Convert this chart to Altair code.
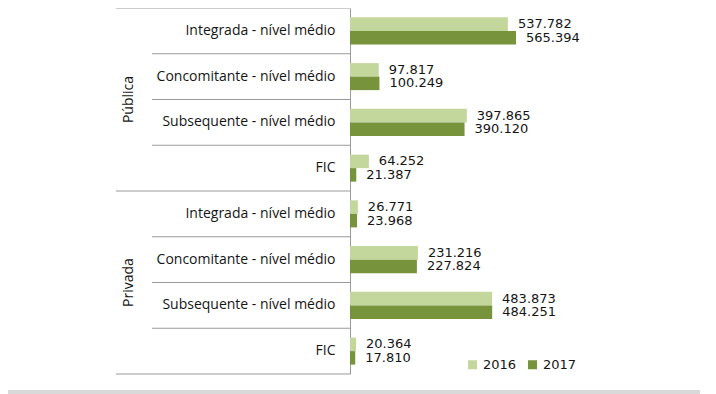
import altair as alt
import pandas as pd

groups = ["Pública"] * 4 + ["Privada"] * 4
categories = ["Integrada - nível médio", "Concomitante - nível médio",
              "Subsequente - nível médio", "FIC"] * 2
years = ["2016", "2017"]
v2016 = [537782, 97817, 397865, 64252, 26771, 231216, 483873, 20364]
v2017 = [565394, 100249, 390120, 21387, 23968, 227824, 484251, 17810]
colors = ["#c3d69b", "#77933c"]

keys = [f"{i}|{c}" for i, c in enumerate(categories)]

rows = []
for i, k in enumerate(keys):
    for y, vals in zip(years, [v2016, v2017]):
        v = vals[i]
        rows.append({"key": k, "group": groups[i], "year": y, "value": v,
                     "label": f"{v:,}".replace(",", ".")})
df = pd.DataFrame(rows)

W, H = 340, 366
LINE = "#9a9a9a"
TXT = "#151515"

yscale = alt.Scale(domain=keys, paddingInner=0, paddingOuter=0)
xscale = alt.Scale(domain=[0, 1158000])

base = alt.Chart(df)

bars = base.mark_bar().encode(
    y=alt.Y("key:N", scale=yscale, sort=keys,
            axis=alt.Axis(title=None, labelExpr="split(datum.label,'|')[1]",
                          labelFont="Open Sans", labelFontSize=14, labelColor=TXT,
                          labelPadding=15, ticks=False, domainColor=LINE,
                          labelLimit=300)),
    yOffset=alt.YOffset("year:N", scale=alt.Scale(paddingInner=0, paddingOuter=0.694)),
    x=alt.X("value:Q", scale=xscale, axis=None),
    color=alt.Color("year:N", scale=alt.Scale(domain=years, range=colors),
                    legend=alt.Legend(orient="none", legendX=116, legendY=350,
                                      direction="horizontal", title=None,
                                      symbolType="square", symbolSize=81,
                                      labelFont="DejaVu Sans", labelFontSize=13,
                                      labelColor=TXT, padding=0, columnPadding=9,
                                      symbolStrokeWidth=0)),
)

labels = base.mark_text(align="left", baseline="middle", dx=10,
                        font="DejaVu Sans", fontSize=13, color=TXT).encode(
    y=alt.Y("key:N", scale=yscale, sort=keys),
    yOffset=alt.YOffset("year:N", scale=alt.Scale(paddingInner=0, paddingOuter=0.694)),
    x=alt.X("value:Q", scale=xscale),
    text="label:N",
)

kdf = pd.DataFrame({"key": keys, "idx": list(range(8)), "group": groups})

inner = alt.Chart(kdf).transform_filter("datum.idx % 4 != 0").mark_rule(
    color=LINE, strokeWidth=1).encode(
    y=alt.Y("key:N", scale=yscale, sort=keys, bandPosition=0),
    x=alt.value(-198), x2=alt.value(0))

outer = alt.Chart(kdf).transform_filter("datum.idx % 4 == 0").mark_rule(
    color=LINE, strokeWidth=1).encode(
    y=alt.Y("key:N", scale=yscale, sort=keys, bandPosition=0),
    x=alt.value(-234), x2=alt.value(0))

bottom = alt.Chart(kdf).transform_filter("datum.idx == 7").mark_rule(
    color=LINE, strokeWidth=1).encode(
    y=alt.Y("key:N", scale=yscale, sort=keys, bandPosition=1),
    x=alt.value(-234), x2=alt.value(0))

glabels = alt.Chart(kdf).transform_filter("datum.idx % 4 == 2").mark_text(
    angle=270, align="center", baseline="middle", font="Open Sans",
    fontSize=14, color=TXT).encode(
    y=alt.Y("key:N", scale=yscale, sort=keys, bandPosition=0),
    x=alt.value(-221), text="group:N")

band = alt.Chart(pd.DataFrame({"a": [0]})).mark_rect(color="#d9d9d9").encode(
    x=alt.value(-342), x2=alt.value(W + 10), y=alt.value(382), y2=alt.value(386))

chart = alt.layer(band, inner, outer, bottom, bars, labels, glabels).properties(
    width=W, height=H,
    autosize=alt.AutoSizeParams(type="none"),
    padding={"left": 342, "top": 0, "right": 10, "bottom": 20},
).configure_view(stroke=None)

chart.save("out.html", embed_options={"renderer": "svg", "actions": False})
